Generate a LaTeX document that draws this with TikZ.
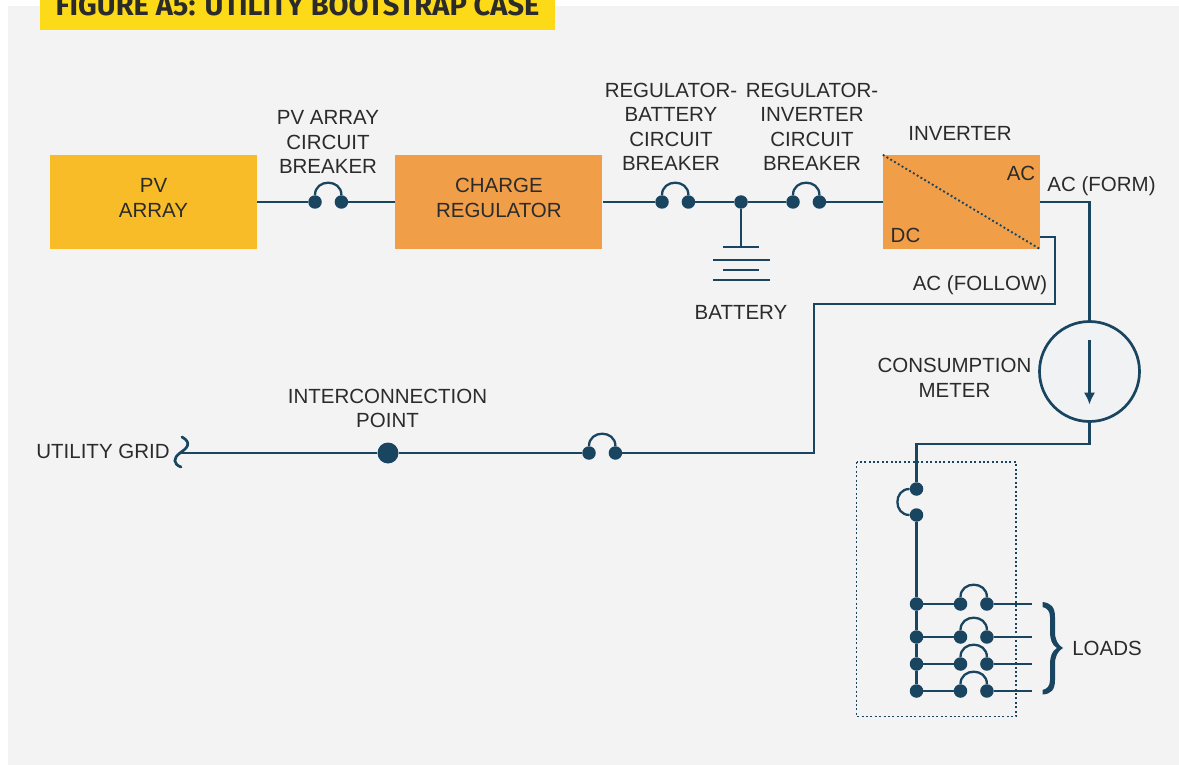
\documentclass[tikz,border=0pt]{standalone}
\usepackage{fontspec}
\setmainfont{Liberation Sans}
\newfontfamily\bannerfont{Fira Sans}
\usetikzlibrary{positioning, arrows.meta}

\definecolor{wirenavy}{HTML}{1A4560}
\definecolor{panelgray}{HTML}{F3F3F3}
\definecolor{meterfill}{HTML}{F0F2F4}
\definecolor{boxorange}{HTML}{F19E49}
\definecolor{boxyellow}{HTML}{F7BC27}
\definecolor{banneryellow}{HTML}{FCDA17}
\definecolor{labelgray}{HTML}{2B2B2B}

\tikzset{
	wire/.style={draw=wirenavy, line width=2.7pt},
	thinarc/.style={draw=wirenavy, line width=2.3pt, out=90, in=90, looseness=1.6},
	wiredot/.style={circle, fill=wirenavy, inner sep=0pt, minimum size=13.5pt},
	plantbox/.style={minimum width=207pt, minimum height=94pt, inner sep=0pt},
	tag/.style={align=center, inner sep=0pt, text=labelgray, font=\fontsize{20.5}{24.5}\selectfont},
	fineline/.style={draw=wirenavy, line width=1.9pt, dash pattern=on 1.9pt off 2.5pt},
}

\begin{document}
\begin{tikzpicture}[x=1pt, y=-1pt]
	\clip (0,0) rectangle (1179,765);
	\fill [panelgray] (8,6) rectangle (1179,765);
	\node (banner) [fill=banneryellow, minimum width=515pt, minimum height=40pt, inner sep=0pt] at (297.5,10) {};
	\node (bannertext) [inner sep=0pt, anchor=base, text=labelgray, font=\bannerfont\bfseries\fontsize{29}{32}\selectfont] at (297.5,15.5) {FIGURE A5: UTILITY BOOTSTRAP CASE};

	% boxes
	\node (pvarray) [plantbox, fill=boxyellow] at (153.5,202) {};
	\node (chargereg) [plantbox, fill=boxorange, right=138pt of pvarray] {};
	\node (inverter) [plantbox, fill=boxorange, minimum width=157pt] at (961.5,202) {};
	\draw [fineline] (inverter.north west) -- (inverter.south east);
	\node (pvtag) [tag] at (pvarray |- 0,198) {PV\\ARRAY};
	\node (chargetag) [tag] at (chargereg |- 0,198) {CHARGE\\REGULATOR};
	\node (acside) [tag] at (1021,173) {AC};
	\node (dcside) [tag] at (905.5,235.5) {DC};

	% top row
	\node (pvbreakl) [wiredot] at (315,202) {};
	\node (pvbreakr) [wiredot, right=12.5pt of pvbreakl] {};
	\node (batbreakl) [wiredot] at (662,202) {};
	\node (batbreakr) [wiredot, right=12.5pt of batbreakl] {};
	\node (busdot) [wiredot] at (741,202) {};
	\node (invbreakl) [wiredot] at (793,202) {};
	\node (invbreakr) [wiredot, right=12.5pt of invbreakl] {};
	\path [wire]
		(pvarray) edge (pvbreakl)
		(pvbreakr) edge (chargereg)
		(chargereg) edge (batbreakl)
		(batbreakr) edge (busdot)
		(busdot) edge (invbreakl)
		(invbreakr) edge (inverter)
	;
	\path
		(pvbreakl.north) edge [thinarc] (pvbreakr.north)
		(batbreakl.north) edge [thinarc] (batbreakr.north)
		(invbreakl.north) edge [thinarc] (invbreakr.north)
	;

	% battery
	\coordinate (plate1) at (741,247);
	\draw [wire] (busdot) -- (plate1);
	\draw [wire] (723,247) -- (759,247);
	\draw [wire] (713,260) -- (769.5,260);
	\draw [wire] (723,270) -- (759,270);
	\draw [wire] (713,280) -- (769.5,280);

	% meter
	\node (meter) [circle, draw=wirenavy, line width=2.7pt, fill=meterfill, minimum size=100pt, inner sep=0pt] at (1089.5,371.5) {};
	\coordinate (meterin) at (1089.5,340);
	\coordinate (meterout) at (1089.5,404.5);
	\draw [wire, -{Latex[length=12pt, width=11.5pt]}] (meterin) -- (meterout);
	\draw [wire] (inverter.east) -| (meter.north);

	% follow line and grid
	\coordinate (followout) at (1040,237);
	\coordinate (followa) at (1055,304);
	\coordinate (followb) at (814,453);
	\coordinate (gridend) at (180,453);
	\node (pointdot) [wiredot, minimum size=21pt] at (388,453) {};
	\node (gridbreakl) [wiredot] at (589,453) {};
	\node (gridbreakr) [wiredot, right=12.5pt of gridbreakl] {};
	\draw [wire] (followout) -| (followa) -| (followb) -- (gridbreakr);
	\draw [wire] (gridbreakl) -- (pointdot) -- (gridend);
	\path (gridbreakl.north) edge [thinarc] (gridbreakr.north);
	\draw [wire, line cap=round] (182,437) .. controls (193,443) and (186,449) .. (180,453) .. controls (173,458) and (173,464) .. (181,467);

	% load panel
	\draw [fineline] (856.5,462) rectangle (1016,716.5);
	\coordinate (feedcorner) at (916.5,444);
	\node (maina) [wiredot] at (916.5,489) {};
	\node (mainb) [wiredot] at (916.5,515) {};
	\draw [wire] (meter.south) |- (feedcorner) -- (maina);
	\path (maina.west) edge [thinarc, out=180, in=180] (mainb.west);

	\node (tap1) [wiredot] at (916.5,604) {};
	\node (tap2) [wiredot] at (916.5,637) {};
	\node (tap3) [wiredot] at (916.5,664) {};
	\node (tap4) [wiredot] at (916.5,691) {};
	\draw [wire] (mainb) -- (tap1) -- (tap2) -- (tap3) -- (tap4);

	\node (load1l) [wiredot] at (960.5,604) {};
	\node (load1r) [wiredot, right=12.5pt of load1l] {};
	\node (load2l) [wiredot] at (960.5,637) {};
	\node (load2r) [wiredot, right=12.5pt of load2l] {};
	\node (load3l) [wiredot] at (960.5,664) {};
	\node (load3r) [wiredot, right=12.5pt of load3l] {};
	\node (load4l) [wiredot] at (960.5,691) {};
	\node (load4r) [wiredot, right=12.5pt of load4l] {};
	\coordinate (end1) at (1031.5,604);
	\coordinate (end2) at (1031.5,637);
	\coordinate (end3) at (1031.5,664);
	\coordinate (end4) at (1031.5,691);
	\path [wire]
		(tap1) edge (load1l)
		(load1r) edge (end1)
		(tap2) edge (load2l)
		(load2r) edge (end2)
		(tap3) edge (load3l)
		(load3r) edge (end3)
		(tap4) edge (load4l)
		(load4r) edge (end4)
	;
	\path
		(load1l.north) edge [thinarc] (load1r.north)
		(load2l.north) edge [thinarc] (load2r.north)
		(load3l.north) edge [thinarc] (load3r.north)
		(load4l.north) edge [thinarc] (load4r.north)
	;
	% brace
	\fill [wirenavy] (1042.5,602) .. controls (1051,603) and (1055,607) .. (1055,617) -- (1055,632) .. controls (1055,640) and (1058,645) .. (1063,648) .. controls (1058,651) and (1055,656) .. (1055,664) -- (1055,680) .. controls (1055,690) and (1051,694) .. (1042.5,694.5) -- (1042.5,690) .. controls (1047,689) and (1050,686) .. (1050,680) -- (1050,665) .. controls (1050,656) and (1052,651) .. (1057,648) .. controls (1052,645) and (1050,640) .. (1050,631) -- (1050,617) .. controls (1050,611) and (1047,608) .. (1042.5,607) -- cycle;

	% labels
	\node (pvbreaktag) [tag] at (328,142) {PV ARRAY\\CIRCUIT\\BREAKER};
	\node (batbreaktag) [tag] at (671,126.7) {REGULATOR-\\BATTERY\\CIRCUIT\\BREAKER};
	\node (invbreaktag) [tag] at (812,126.7) {REGULATOR-\\INVERTER\\CIRCUIT\\BREAKER};
	\node (invertertag) [tag] at (960,133) {INVERTER};
	\node (formtag) [tag] at (1101.5,186) {AC (FORM)};
	\node (followtag) [tag] at (980,285) {AC (FOLLOW)};
	\node (batterytag) [tag] at (741,312) {BATTERY};
	\node (metertag) [tag] at (954.5,378) {CONSUMPTION\\METER};
	\node (pointtag) [tag] at (387.5,408.5) {INTERCONNECTION\\POINT};
	\node (gridtag) [tag] at (103,451) {UTILITY GRID};
	\node (loadstag) [tag] at (1107,648) {LOADS};
\end{tikzpicture}
\end{document}
